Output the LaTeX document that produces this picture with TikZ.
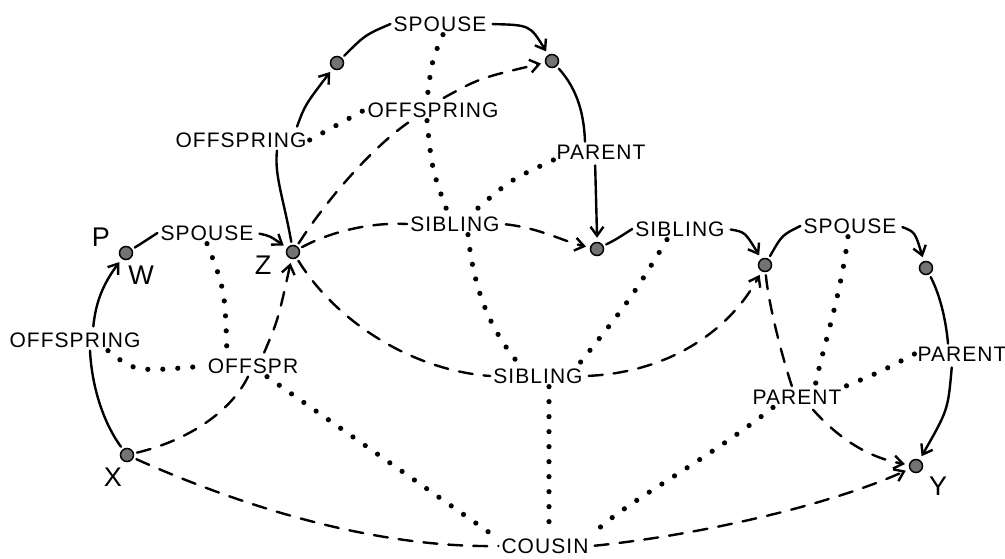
\documentclass[tikz,border=0pt]{standalone}
\usepackage{fontspec}
\setmainfont{Liberation Sans}
\newfontfamily\handfont[LetterSpace=5]{Liberation Sans}
\usetikzlibrary{arrows.meta}

\tikzset{
  vertex/.style={circle, fill=black!55, draw=black, line width=1.5pt,
                 minimum size=13pt, inner sep=0pt},
  rellabel/.style={font=\handfont\fontsize{21}{21}\selectfont, inner sep=3pt},
  letter/.style={font=\fontsize{27}{27}\selectfont, inner sep=0pt},
  rel/.style={line width=2.4pt, line cap=round, shorten <=3pt},
  arr/.style={-{Straight Barb[length=9pt,width=13pt]}, shorten >=4pt},
  comp/.style={rel, dash pattern=on 14pt off 11pt},
  chain/.style={line width=5.2pt, line cap=round, dash pattern=on 0pt off 15pt}
}

\begin{document}
\begin{tikzpicture}[x=1pt, y=-1pt]
\path[use as bounding box, fill=white] (0,0) rectangle (1005,558);

% individuals
\node[vertex] (W) at (126,253) {};
\node[vertex] (Z) at (293,252) {};
\node[vertex] (A) at (337,63) {};
\node[vertex] (B) at (552,61) {};
\node[vertex] (C) at (597,249) {};
\node[vertex] (D) at (765,265) {};
\node[vertex] (E) at (926,268) {};
\node[vertex] (Y) at (916,466) {};
\node[vertex] (X) at (127,455) {};

% names of individuals
\node[letter] (nP) at (101,237) {P};
\node[letter] (nW) at (141,275) {W};
\node[letter] (nZ) at (263,265) {Z};
\node[letter] (nX) at (113,477) {X};
\node[letter] (nY) at (938,486) {Y};

% relation labels
\node[rellabel] (lOffXW) at (75,340) {OFFSPRING};
\node[rellabel] (lSpWZ)  at (207,233) {SPOUSE};
\node[rellabel] (lOffZA) at (241,140) {OFFSPRING};
\node[rellabel] (lSpAB)  at (440,24) {SPOUSE};
\node[rellabel] (lOffZB) at (433,110) {OFFSPRING};
\node[rellabel] (lParBC) at (601,152) {PARENT};
\node[rellabel] (lSibZC) at (455,224) {SIBLING};
\node[rellabel] (lSibCD) at (680,229) {SIBLING};
\node[rellabel] (lSpDE)  at (850,226) {SPOUSE};
\node[rellabel] (lParEY) at (962,354) {PARENT};
\node[rellabel] (lParDY) at (797,397) {PARENT};
\node[rellabel] (lSibZD) at (538,376) {SIBLING};
\node[rellabel] (lOffXZ) at (253,366) {OFFSPR};
\node[rellabel] (lCous)  at (545,546) {COUSIN};

% basic relations (solid)
\draw[rel] (X) .. controls (105,425) and (92,390) .. ([xshift=15pt]lOffXW.south);
\draw[rel,arr] ([xshift=18pt]lOffXW.north) .. controls (96,300) and (104,283) .. (W);

\draw[rel] (W) .. controls (142,243) .. (lSpWZ.west);
\draw[rel,arr] (lSpWZ.east) .. controls (270,236) .. (Z);

\draw[rel] (Z) .. controls (284,200) and (274,175) .. ([xshift=36pt]lOffZA.south);
\draw[rel,arr] ([xshift=55pt]lOffZA.north) .. controls (305,105) .. (A);

\draw[rel] (A) .. controls (365,35) .. (lSpAB.west);
\draw[rel,arr] (lSpAB.east) .. controls (530,25) .. (B);

\draw[rel] (B) .. controls (578,90) and (584,115) .. ([xshift=-16pt]lParBC.north);
\draw[rel,arr] ([xshift=-6pt]lParBC.south) .. controls (597,200) .. (C);

\draw[rel] (C) .. controls (615,240) .. (lSibCD.west);
\draw[rel,arr] (lSibCD.east) .. controls (745,232) .. (D);

\draw[rel] (D) .. controls (782,235) .. (lSpDE.west);
\draw[rel,arr] (lSpDE.east) .. controls (915,232) .. (E);

\draw[rel] (E) .. controls (940,295) and (946,320) .. ([xshift=-14pt]lParEY.north);
\draw[rel,arr] ([xshift=-10pt]lParEY.south) .. controls (948,410) .. (Y);

% composed relations (dashed)
\draw[comp] (X) .. controls (190,440) and (232,410) .. ([xshift=-5pt]lOffXZ.south);
\draw[comp,arr] ([xshift=10pt]lOffXZ.north) .. controls (278,320) .. (Z);

\draw[comp] (X) .. controls (250,510) and (380,548) .. (lCous.west);
\draw[comp,arr] (lCous.east) .. controls (700,535) and (830,505) .. (Y);

\draw[comp] (Z) .. controls (330,195) and (375,145) .. ([xshift=-22pt]lOffZB.south);
\draw[comp,arr] ([xshift=8pt]lOffZB.north) .. controls (480,78) .. (B);

\draw[comp] (Z) .. controls (330,232) and (370,222) .. (lSibZC.west);
\draw[comp,arr] (lSibZC.east) .. controls (540,228) and (565,242) .. (C);

\draw[comp] (Z) .. controls (335,320) and (410,370) .. (lSibZD.west);
\draw[comp,arr] (lSibZD.east) .. controls (670,372) and (730,330) .. (D);

\draw[comp] (D) .. controls (768,300) and (780,350) .. ([xshift=-5pt]lParDY.north);
\draw[comp,arr] ([xshift=14pt]lParDY.south) .. controls (840,440) and (870,458) .. (Y);

% composition links between labels (dotted)
\draw[chain] (lSpWZ.south) .. controls (225,290) .. ([xshift=-26pt]lOffXZ.north);
\draw[chain] ([xshift=33pt]lOffXW.south) .. controls (135,372) .. (lOffXZ.west);
\draw[chain] ([xshift=14pt]lOffXZ.south) -- ([xshift=-5pt]lCous.north west);
\draw[chain] ([xshift=11pt]lSibZD.south) -- ([xshift=4pt]lCous.north);
\draw[chain] ([xshift=-24pt]lParDY.south) .. controls (700,465) and (620,505) .. (lCous.north east);
\draw[chain] ([xshift=-2pt]lSpDE.south) .. controls (840,300) and (822,350) .. ([xshift=18pt]lParDY.north);
\draw[chain] (lParEY.west) .. controls (880,372) .. (lParDY.north east);
\draw[chain] ([xshift=-13pt]lSibCD.south) .. controls (630,300) .. ([xshift=40pt]lSibZD.north);
\draw[chain] ([xshift=13pt]lSibZC.south) .. controls (475,300) and (495,335) .. ([xshift=-18pt]lSibZD.north);
\draw[chain] ([xshift=-6pt]lOffZB.south) .. controls (432,170) .. ([xshift=-7pt]lSibZC.north);
\draw[chain] ([yshift=-8pt]lParBC.west) .. controls (510,180) .. ([xshift=17pt]lSibZC.north);
\draw[chain] ([xshift=3pt]lSpAB.south) .. controls (432,60) .. ([xshift=-6pt]lOffZB.north);
\draw[chain] (lOffZA.east) -- (lOffZB.west);
\end{tikzpicture}
\end{document}
